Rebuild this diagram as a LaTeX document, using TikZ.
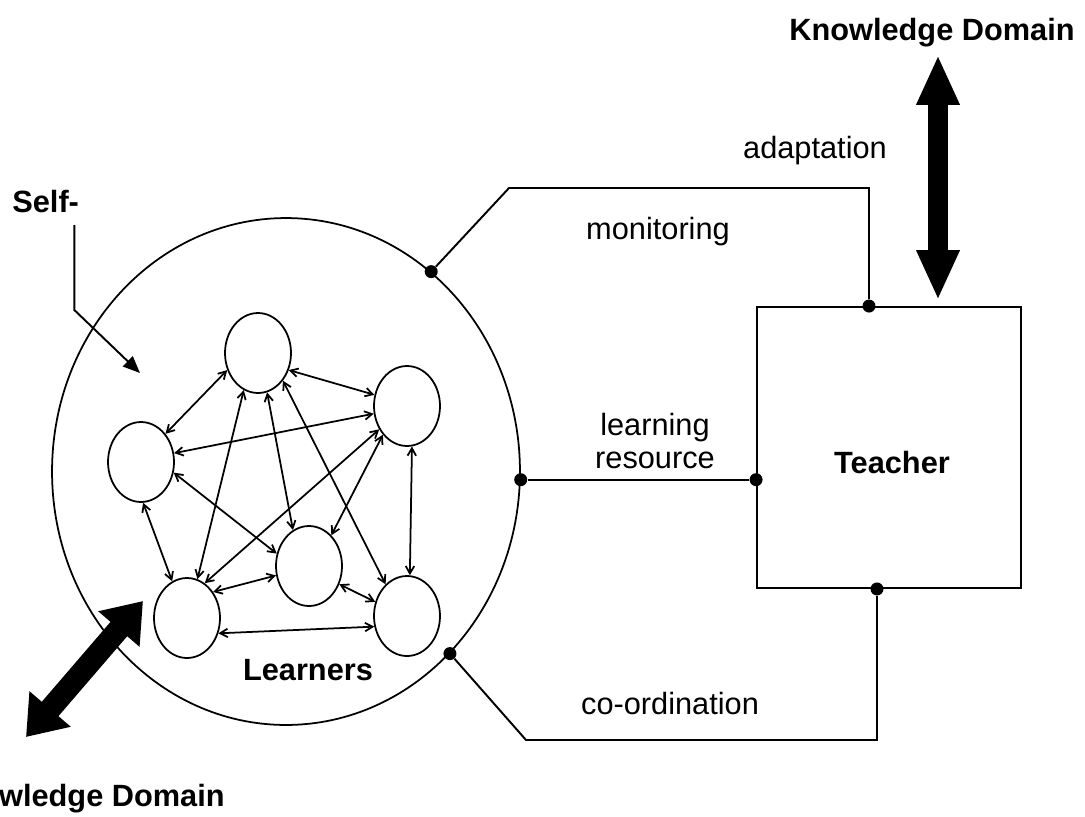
\documentclass[tikz,border=0pt]{standalone}
\usepackage{fontspec}
\setmainfont{Liberation Sans}
\usetikzlibrary{shapes.geometric,arrows.meta,calc}

\begin{document}
\begin{tikzpicture}[x=0.02cm, y=-0.02cm,
        txt/.style={font=\fontsize{17.5}{18.5}\selectfont, inner sep=0pt, align=center},
        btxt/.style={font=\fontsize{17.5}{18.5}\selectfont\bfseries, inner sep=0pt},
        learner/.style={ellipse, draw, line width=1pt, minimum width=1.32cm, minimum height=1.6cm, inner sep=0pt},
        link/.style={{Straight Barb[length=0.15cm,width=0.17cm]}-{Straight Barb[length=0.15cm,width=0.17cm]}, line width=1pt},
        wire/.style={line width=1.1pt},
        dot/.style={circle, fill, inner sep=0pt, minimum size=0.26cm},
        pointer/.style={line width=1.1pt, -{Triangle[length=0.34cm,width=0.28cm]}},
        fatv/.style={line width=0.4cm, {Triangle[length=1cm,width=0.8cm]}-{Triangle[length=1cm,width=0.8cm]}},
        fatd/.style={line width=0.44cm, {Triangle[length=0.74cm,width=1.04cm]}-{Triangle[length=0.74cm,width=1.04cm]}}]
        \useasboundingbox (0,0) rectangle (1085,816);
        \clip (0,0) rectangle (1085,816);

        \node[ellipse, draw, line width=1pt, minimum width=9.36cm, minimum height=10.14cm] (group) at (286,471.5) {};
        \node[draw, line width=1.1pt, minimum width=5.28cm, minimum height=5.62cm] (teacher) at (889,447.5) {};
        \node[btxt, anchor=base] (teachtxt) at (892,473) {Teacher};

        \node[learner] (ltop) at (258,353) {};
        \node[learner] (lright) at (407,406) {};
        \node[learner] (lleft) at (141,462) {};
        \node[learner] (lmid) at (309,566) {};
        \node[learner] (lbotl) at (187,618) {};
        \node[learner] (lbotr) at (407,616) {};
        \node[btxt, anchor=base] (learners) at (308,680) {Learners};

        \draw[link] (ltop.-29) -- (lright.161);
        \draw[link] (ltop.-151) -- (lleft.49);
        \draw[link] (ltop.-111) -- (lbotl.75);
        \draw[link] (ltop.-77) -- (lmid.114);
        \draw[link] (ltop.-48) -- (lbotr.124);
        \draw[link] (lright.-167) -- (lleft.15);
        \draw[link] (lright.-140) -- (lbotl.63);
        \draw[link] (lright.-130) -- (lmid.54);
        \draw[link] (lright.-83) -- (lbotr.86);
        \draw[link] (lleft.-87) -- (lbotl.112);
        \draw[link] (lleft.-18) -- (lmid.159);
        \draw[link] (lbotl.45) -- (lmid.-164);
        \draw[link] (lbotl.-26) -- (lbotr.-162);
        \draw[link] (lmid.-31) -- (lbotr.156);

        \node[dot] (mon1) at (group.54) {};
        \node[dot] (mon2) at ($(teacher.north)+(-20,0)$) {};
        \node[dot] (res1) at (group.-2.6) {};
        \node[dot] (res2) at (teacher.west |- res1) {};
        \node[dot] (coo1) at (group.-48.6) {};
        \node[dot] (coo2) at ($(teacher.south)+(-12,0)$) {};

        \draw[wire] (mon1) -- (509,188) -| (mon2);
        \draw[wire] (res1) -- (res2);
        \draw[wire] (coo1) -- (526,740) -| (coo2);

        \node[txt, anchor=base] (monlbl) at (658,239) {monitoring};
        \node[txt] (reslbl) at (655,441) {learning\\resource};
        \node[txt, anchor=base] (coolbl) at (670,714) {co-ordination};
        \node[txt, anchor=base] (adalbl) at (815,158) {adaptation};

        \node[btxt, anchor=base] (kdtop) at (932,40) {Knowledge Domain};
        \coordinate (kdA) at (938,55);
        \coordinate (kdB) at (938,300);
        \draw[fatv] (kdA) -- (kdB);

        \node[btxt, anchor=base east] (kdbot) at (225,806) {Knowledge Domain};
        \coordinate (kdC) at (143,601);
        \coordinate (kdD) at (26,737);
        \draw[fatd] (kdD) -- (kdC);

        \node[btxt, anchor=base west] (self) at (12,212) {Self-};
        \coordinate (selftip) at (140,373);
        \draw[pointer] ($(self.base east)+(-5,13)$) -- ++(0,85) -- (selftip);
    \end{tikzpicture}
\end{document}
